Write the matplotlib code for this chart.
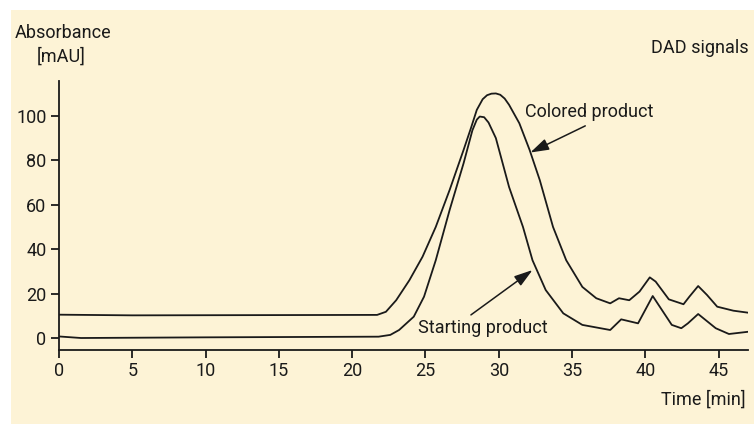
import matplotlib.pyplot as plt
from matplotlib.patches import Rectangle

# Sinais DAD
t_colored = [0, 5, 21.7, 22.3, 23.0, 23.9, 24.8, 25.7, 26.65, 27.6, 28.1, 28.5, 28.9, 29.2, 29.5,
             29.8, 30.1, 30.4, 30.7, 31.4, 32.1, 32.8, 33.7, 34.6, 35.7, 36.65, 37.6, 38.2, 38.9,
             39.6, 40.3, 40.7, 41.6, 42.6, 43.0, 43.6, 44.2, 44.9, 46.0, 47.0]
y_colored = [10.5, 10.2, 10.4, 11.8, 17, 26, 36.6, 50, 66.7, 84.7, 94.5, 102.7, 107.5, 109.3, 110,
             110.1, 109.5, 107.8, 105, 96.7, 84.7, 71, 50, 35, 23, 17.9, 15.6, 17.9, 17,
             20.9, 27.3, 25.4, 17.4, 15.2, 18.6, 23.4, 19.4, 14.1, 12.3, 11.4]

t_starting = [0, 1.5, 10, 21.8, 22.6, 23.2, 24.2, 24.9, 25.7, 26.65, 27.6, 28.2, 28.5, 28.7,
              29.0, 29.3, 29.8, 30.7, 31.65, 32.3, 33.2, 34.4, 35.7, 37.6, 38.35, 39.5, 40.5,
              41.8, 42.45, 42.9, 43.6, 44.8, 45.7, 47.0]
y_starting = [0.7, 0.0, 0.3, 0.6, 1.4, 3.6, 9.6, 18.6, 35, 57.7, 78.7, 93.5, 98.3, 99.7,
              99.4, 97, 90, 68, 50, 35, 21.6, 11.1, 5.9, 3.6, 8.4, 6.6, 18.9,
              5.9, 4.4, 6.6, 10.8, 4.4, 1.8, 2.8]

x_ticks = [0, 5, 10, 15, 20, 25, 30, 35, 40, 45]
y_ticks = [0, 20, 40, 60, 80, 100]

plt.rcParams['font.family'] = ['Roboto', 'DejaVu Sans']

W, H = 754, 424
fig = plt.figure(figsize=(W / 100, H / 100), dpi=100, facecolor='white')
fundo = '#fdf3d6'
fig.patches.append(Rectangle((11 / W, 0), 1, 1 - 10 / H, transform=fig.transFigure,
                             facecolor=fundo, edgecolor='none', zorder=-10))

ax = fig.add_axes([59 / W, 74 / H, (748 - 59) / W, (350 - 81) / H])
ax.set_zorder(5)
ax.set_facecolor('none')
ax.plot(t_colored, y_colored, color='#1a1a1a', lw=1.3)
ax.plot(t_starting, y_starting, color='#1a1a1a', lw=1.3)

ax.set_xlim(0, 47)
ax.set_ylim(-5.4, 115.7)
for s in ['top', 'right']:
    ax.spines[s].set_visible(False)
for s in ['left', 'bottom']:
    ax.spines[s].set_linewidth(1.3)
    ax.spines[s].set_color('#1a1a1a')
ax.set_xticks(x_ticks)
ax.set_yticks(y_ticks)
ax.tick_params(length=6, width=1.3, labelsize=13, color='#1a1a1a', labelcolor='#1a1a1a', pad=3)

seta = dict(arrowstyle='-|>,head_length=0.7,head_width=0.22', color='#1a1a1a', lw=1.1,
            mutation_scale=16, shrinkA=0, shrinkB=0)
ax.text(31.8, 101.8, 'Colored product', fontsize=13, color='#1a1a1a', ha='left', va='center')
ax.annotate('', xy=(32.15, 83.5), xytext=(35.9, 95.5), arrowprops=seta)
ax.text(24.5, 4.5, 'Starting product', fontsize=13, color='#1a1a1a', ha='left', va='center')
ax.annotate('', xy=(32.3, 30.6), xytext=(28.1, 10.4), arrowprops=seta)

fig.text(15 / W, 1 - 33 / H, 'Absorbance', fontsize=13, color='#1a1a1a', ha='left', va='center')
fig.text(61 / W, 1 - 57 / H, '[mAU]', fontsize=13, color='#1a1a1a', ha='center', va='center')
fig.text(749 / W, 1 - 48 / H, 'DAD signals', fontsize=13, color='#1a1a1a', ha='right', va='center')
fig.text(746 / W, 1 - 400 / H, 'Time [min]', fontsize=13, color='#1a1a1a', ha='right', va='center')

fig.savefig('out.png', dpi=100, facecolor='white')
